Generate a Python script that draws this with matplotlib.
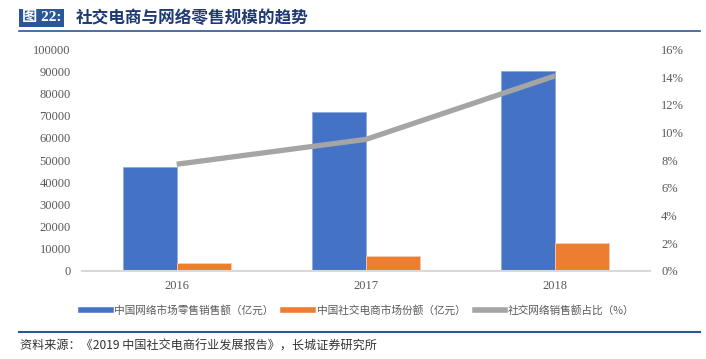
import matplotlib
matplotlib.use("Agg")
import matplotlib.pyplot as plt
from matplotlib.lines import Line2D
from matplotlib.ticker import FuncFormatter
import numpy as np

years = ["2016", "2017", "2018"]
retail = [46700, 71700, 90300]          # 中国网络市场零售销售额（亿元）
social = [3350, 6800, 12400]            # 中国社交电商市场份额（亿元）
share = [7.7, 9.5, 14.1]                # 社交网络销售额占比（%）
left_ticks = list(range(0, 100001, 10000))
right_ticks = list(range(0, 17, 2))

series_names = ["中国网络市场零售销售额（亿元）", "中国社交电商市场份额（亿元）", "社交网络销售额占比（%）"]
title_tag = "图 22:"
title_text = "社交电商与网络零售规模的趋势"
source_text = "资料来源：《2019 中国社交电商行业发展报告》，长城证券研究所"

C_BLUE = "#4472C4"
C_ORANGE = "#ED7D31"
C_GRAY = "#A5A5A5"
C_TEXT = "#595959"
C_DARK = "#1F3A73"

plt.rcParams['font.family'] = ['Liberation Serif', 'Noto Sans CJK SC', 'DejaVu Sans']

fig = plt.figure(figsize=(7.06, 3.59), dpi=100)
W, H = 706, 359
ax = fig.add_axes([82 / W, (H - 270.7) / H, (650 - 82) / W, (270.7 - 49.5) / H])

x = np.arange(len(years))
bw = 0.286
ax.bar(x - bw / 2, retail, width=bw, color=C_BLUE, edgecolor="#8FAADC", linewidth=0.6, zorder=2)
ax.bar(x + bw / 2, social, width=bw, color=C_ORANGE, edgecolor="#F8CBAD", linewidth=0.6, zorder=2)
ax.set_xlim(-0.5, 2.5)
ax.set_ylim(0, 100000)
ax.set_yticks(left_ticks)
ax.set_xticks(x)
ax.set_xticklabels(years)
for s in ["top", "right", "left"]:
    ax.spines[s].set_visible(False)
ax.spines["bottom"].set_color("#D9D9D9")
ax.spines["bottom"].set_linewidth(1.5)
ax.tick_params(axis="both", length=0, labelsize=9, colors=C_TEXT)
ax.tick_params(axis="y", pad=8)
ax.tick_params(axis="x", pad=7)

ax2 = ax.twinx()
ax2.plot(x, share, color=C_GRAY, linewidth=3.8, solid_capstyle="butt", zorder=3)
ax2.set_ylim(0, 16)
ax2.set_yticks(right_ticks)
ax2.yaxis.set_major_formatter(FuncFormatter(lambda v, p: f"{int(v)}%"))
for s in ["top", "right", "left", "bottom"]:
    ax2.spines[s].set_visible(False)
ax2.tick_params(axis="y", length=0, labelsize=9, colors=C_TEXT, pad=8)

handles = [Line2D([0], [0], color=C_BLUE, lw=4),
           Line2D([0], [0], color=C_ORANGE, lw=4),
           Line2D([0], [0], color=C_GRAY, lw=4)]
leg = fig.legend(handles, series_names, loc="center", bbox_to_anchor=(358 / W, 1 - 310 / H),
                 ncol=3, frameon=False, handlelength=2.8, handletextpad=0.3, columnspacing=0.9,
                 prop={"family": ["Noto Sans CJK SC"], "size": 7.7})
for t in leg.get_texts():
    t.set_color(C_TEXT)

# title
fig.text(22 / W, 1 - 18 / H, title_tag, color="white", fontsize=11, fontweight="bold",
         va="center", ha="left",
         bbox=dict(boxstyle="square,pad=0.18", facecolor="#2B5797", edgecolor="none"))
fig.text(76 / W, 1 - 18 / H, title_text, color=C_DARK, fontsize=12, fontweight="bold",
         va="center", ha="left", family=["Noto Sans CJK SC"])
fig.add_artist(Line2D([19 / W, 700 / W], [1 - 30.5 / H, 1 - 30.5 / H], color="#2E5597", lw=1.2))

# source
fig.add_artist(Line2D([19 / W, 700 / W], [1 - 332 / H, 1 - 332 / H], color="#2E5597", lw=1.5))
fig.text(20 / W, 1 - 346 / H, source_text, color="#333333", fontsize=8.7, style="italic",
         va="center", ha="left", family=["Noto Sans CJK SC", "Liberation Serif"])

fig.savefig("out.png", dpi=100)
